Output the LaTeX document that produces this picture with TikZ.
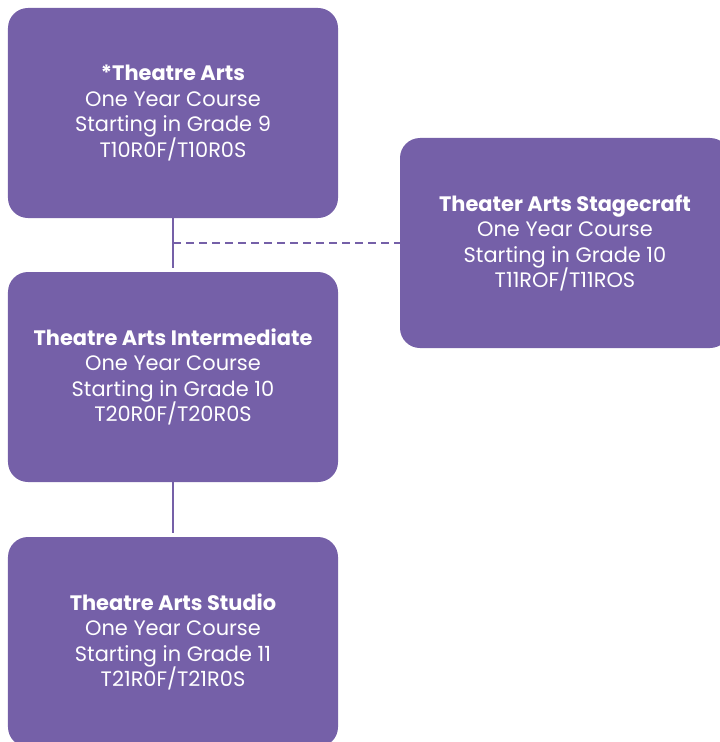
\documentclass[tikz,border=0pt]{standalone}
\usepackage{fontspec}
\setmainfont{Poppins}
\definecolor{boxpurple}{RGB}{117,96,168}
\begin{document}
\begin{tikzpicture}[x=1bp,y=-1bp,
  course/.style={fill=boxpurple, draw=none, rounded corners=20bp, minimum width=330bp, minimum height=210bp,
     text=white, align=center, inner sep=0pt, font=\fontsize{21}{25.5}\selectfont},
  link/.style={draw=boxpurple, line width=2bp},
  dlink/.style={draw=boxpurple, line width=2bp, dash pattern=on 8bp off 5bp}]
\useasboundingbox (0,0) rectangle (720,742);
\begin{scope}
\clip (0,0) rectangle (720,742);
\node[course] (b1) at (173,113) {\textbf{*Theatre Arts}\\One Year Course\\Starting in Grade 9\\T10R0F/T10R0S};
\node[course] (b2) at (565,243) {\textbf{Theater Arts Stagecraft}\\One Year Course\\Starting in Grade 10\\T11ROF/T11ROS};
\node[course] (b3) at (173,377) {\textbf{Theatre Arts Intermediate}\\One Year Course\\Starting in Grade 10\\T20R0F/T20R0S};
\node[course] (b4) at (173,642) {\textbf{Theatre Arts Studio}\\One Year Course\\Starting in Grade 11\\T21R0F/T21R0S};
\end{scope}
\coordinate (j) at (b1.south |- b2.west);
\draw[link, shorten >=4bp] (b1.south) -- (b3.north);
\draw[link, shorten >=4bp] (b3.south) -- (b4.north);
\draw[dlink] (j) -- (b2.west);
\end{tikzpicture}
\end{document}
